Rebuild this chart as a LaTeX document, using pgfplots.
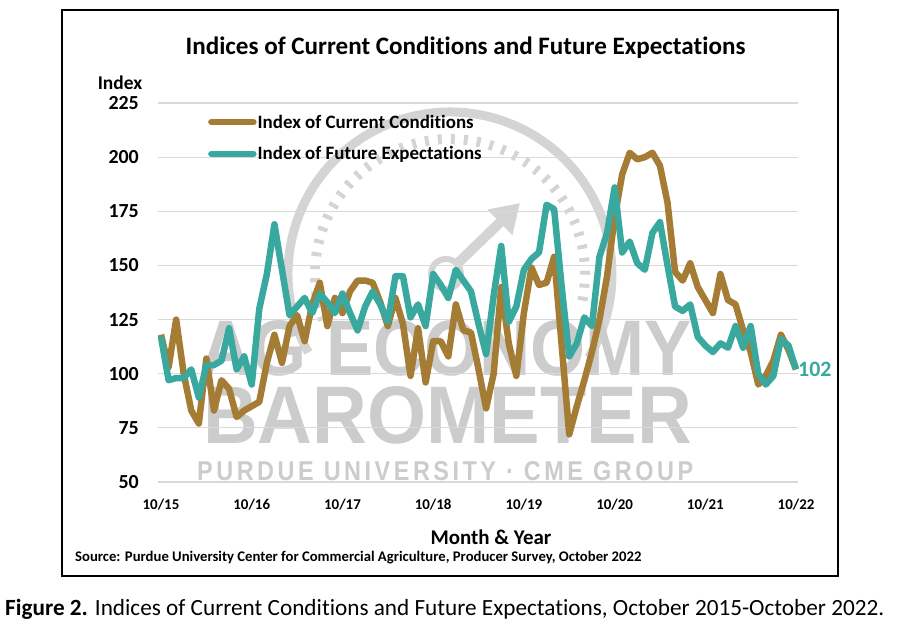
\documentclass[border=0pt]{standalone}
\usepackage{fontspec}
\setmainfont{Carlito}[Ligatures=NoCommon]
\newfontfamily\wmfont{Liberation Sans}
\newfontfamily\wmspaced{Liberation Sans}[LetterSpace=15]
\usepackage{graphicx}
\usepackage{pgfplots}
\usepackage{pgfplotstable}
\pgfplotsset{compat=1.18}
\usetikzlibrary{arrows.meta}
\definecolor{gold}{RGB}{164,124,52}
\definecolor{teal2}{RGB}{57,168,158}
\definecolor{wm}{RGB}{204,204,204}
\definecolor{wmg}{RGB}{212,212,212}
\definecolor{gridc}{RGB}{217,217,217}

\pgfplotstableread{
i cur fut
0 118 117
1 103 97
2 125 98
3 100 98
4 83 102
5 77 89
6 107 104
7 83 104
8 97 106
9 93 121
10 80 102
11 83 108
12 85 95
13 87 130
14 105 146
15 118 169
16 105 148
17 122 127
18 127 131
19 115 135
20 132 128
21 142 137
22 122 133
23 135 128
24 128 137
25 138 128
26 143 120
27 143 131
28 142 138
29 133 132
30 122 124
31 135 145
32 123 145
33 99 126
34 121 132
35 96 122
36 115 146
37 115 141
38 108 135
39 132 148
40 120 143
41 119 138
42 102 123
43 84 109
44 100 136
45 140 159
46 114 124
47 99 131
48 128 148
49 149 153
50 141 156
51 142 178
52 154 176
53 113 140
54 72 108
55 85 114
56 97 126
57 110 122
58 125 154
59 145 165
60 172 186
61 192 156
62 202 161
63 199 151
64 200 148
65 202 165
66 196 170
67 179 150
68 147 131
69 143 129
70 151 132
71 140 117
72 134 113
73 128 110
74 146 114
75 134 112
76 132 122
77 120 112
78 110 122
79 95 100
80 99 95
81 106 99
82 118 116
83 111 113
84 102 102
}\datatable

\begin{document}
\begin{tikzpicture}[x=1bp,y=1bp]
\useasboundingbox (0,0) rectangle (906,635);
% frame
\draw[line width=1.5bp] (62,625) rectangle (838,59);
% watermark
\draw[line width=9bp, wmg] (450,361) ++(209:162bp) arc[start angle=209, end angle=-31, radius=162bp];
\draw[line width=10bp, wmg, dash pattern=on 4bp off 9bp] (450,361) ++(200:135bp) arc[start angle=200, end angle=-12, radius=135bp];
\draw[line width=6bp, wmg] (446,361) circle[radius=15bp];
\draw[line width=10bp, wmg, -{Triangle[width=34bp,length=28bp]}] (458,372) -- (520,432);
\node[anchor=south west, inner sep=0pt, text=wm] at (200,259) {\resizebox{492bp}{55bp}{\wmfont\bfseries AG ECONOMY}};
\node[anchor=south west, inner sep=0pt, text=wm] at (203,190) {\resizebox{489bp}{57bp}{\wmfont\bfseries BAROMETER}};
\node[anchor=south west, inner sep=0pt, text=wm] at (197,154) {\resizebox{496bp}{19bp}{\wmspaced\bfseries PURDUE UNIVERSITY \textperiodcentered{} CME GROUP}};
% texts
\node[font=\bfseries\fontsize{25.2}{25.2}\selectfont] at (465.5,587) {Indices of Current Conditions and Future Expectations};
\node[font=\bfseries\fontsize{19.5}{19.5}\selectfont] at (120,552) {Index};
\node[font=\bfseries\fontsize{21}{21}\selectfont] at (491,98) {Month \& Year};
\node[font=\bfseries\fontsize{14.75}{14.75}\selectfont, anchor=west, inner sep=0pt] at (75,77) {Source: Purdue University Center for Commercial Agriculture, Producer Survey, October 2022};
\node[font=\fontsize{23.3}{23.3}\selectfont, anchor=west, inner sep=0pt] at (5,26) {\textbf{Figure 2.} Indices of Current Conditions and Future Expectations, October 2015-October 2022.};
\begin{axis}[
  at={(158bp,153bp)}, anchor=south west,
  width=640.3bp, height=379bp, scale only axis,
  xmin=-0.4, xmax=84.3, ymin=50, ymax=225,
  axis line style={draw=none},
  ytick={50,75,...,225},
  xtick={0,12,...,84},
  xticklabels={10/15,10/16,10/17,10/18,10/19,10/20,10/21,10/22},
  major tick length=0pt,
  ymajorgrids, grid style={gridc, line width=1.2bp},
  yticklabel style={font=\bfseries\fontsize{20}{20}\selectfont, inner sep=0pt, xshift=-19bp},
  xticklabel style={font=\bfseries\fontsize{15}{15}\selectfont, inner sep=0pt, yshift=-17bp},
  /pgf/number format/assume math mode=true,
  clip=false,
  legend style={at={(axis description cs:0.078,0.972)}, anchor=north west, draw=none, fill=none,
    font=\bfseries\fontsize{19}{19}\selectfont, row sep=15bp, inner sep=0pt, nodes={inner sep=1bp}},
  legend cell align=left,
  legend image code/.code={\draw[#1, line cap=round] (0bp,0bp) -- (42bp,0bp);},
]
\addplot[gold, line width=6.5bp, line join=round] table[x=i,y=cur]{\datatable};
\addlegendentry{Index of Current Conditions}
\addplot[teal2, line width=6.5bp, line join=round] table[x=i,y=fut]{\datatable};
\addlegendentry{Index of Future Expectations}
\node[anchor=west, inner sep=0pt, text=teal2, font=\bfseries\fontsize{22}{22}\selectfont] at (axis cs:84,102) {\hspace{2bp}102};
\end{axis}
\end{tikzpicture}
\end{document}
